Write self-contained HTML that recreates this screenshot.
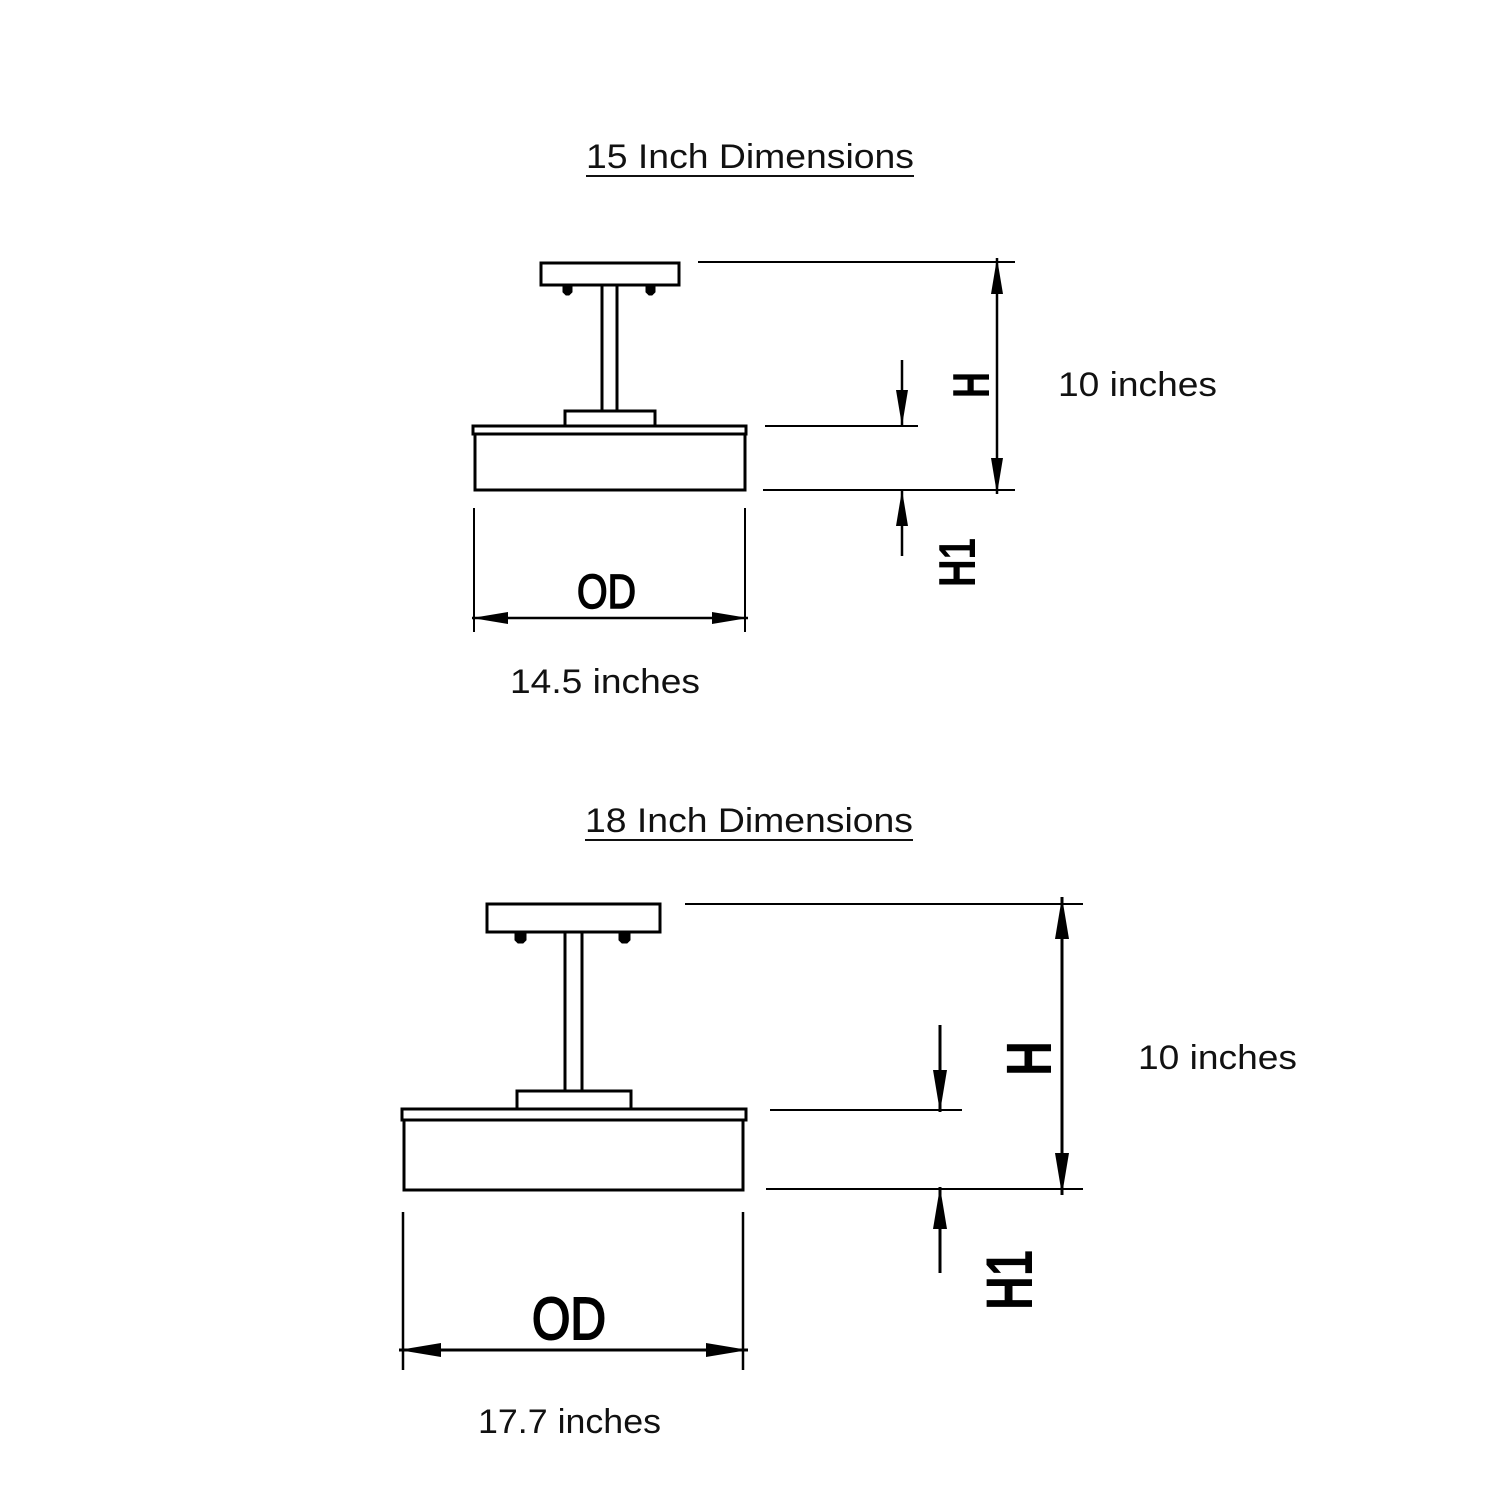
<!DOCTYPE html>
<html><head><meta charset="utf-8"><style>
html,body{margin:0;padding:0;background:#fff;}
svg{display:block}
.t{font-family:"Liberation Sans",sans-serif;fill:#111;}
</style></head><body>
<svg width="1500" height="1499" viewBox="0 0 1500 1499" xmlns="http://www.w3.org/2000/svg">
<defs>
<marker id="a" viewBox="0 0 36 12" refX="36" refY="6" markerWidth="36" markerHeight="12" markerUnits="userSpaceOnUse" orient="auto-start-reverse"><path d="M0,0 L36,6 L0,12 Z" fill="#000"/></marker>
<marker id="b" viewBox="0 0 42 14" refX="42" refY="7" markerWidth="42" markerHeight="14" markerUnits="userSpaceOnUse" orient="auto-start-reverse"><path d="M0,0 L42,7 L0,14 Z" fill="#000"/></marker>
</defs>
<g stroke="#000" fill="none" stroke-width="3">
<rect x="541" y="263" width="138" height="22"/>
<path d="M563,286 h9 v6 l-3,3 h-3 l-3,-3 z M646,286 h9 v6 l-3,3 h-3 l-3,-3 z" fill="#000" stroke-width="1"/>
<line x1="602" y1="286" x2="602" y2="411"/><line x1="617" y1="286" x2="617" y2="411"/>
<rect x="565" y="411" width="90" height="15"/>
<rect x="473" y="426" width="273" height="8"/>
<rect x="475" y="434" width="270" height="56"/>
<line x1="698" y1="262" x2="1015" y2="262" stroke-width="2"/>
<line x1="765" y1="426" x2="918" y2="426" stroke-width="2"/>
<line x1="763" y1="490" x2="1015" y2="490" stroke-width="2"/>
<line x1="997" y1="258" x2="997" y2="494" stroke-width="2.5" marker-start="url(#a)" marker-end="url(#a)"/>
<line x1="902" y1="360" x2="902" y2="426" stroke-width="2.5" marker-end="url(#a)"/>
<line x1="902" y1="556" x2="902" y2="490" stroke-width="2.5" marker-end="url(#a)"/>
<line x1="474" y1="508" x2="474" y2="632" stroke-width="2"/>
<line x1="745" y1="508" x2="745" y2="632" stroke-width="2"/>
<line x1="472" y1="618" x2="748" y2="618" stroke-width="2.5" marker-start="url(#a)" marker-end="url(#a)"/>
<rect x="487" y="904" width="173" height="28"/>
<path d="M515,933 h11 v7 l-3,3 h-5 l-3,-3 z M619,933 h11 v7 l-3,3 h-5 l-3,-3 z" fill="#000" stroke-width="1"/>
<line x1="565" y1="933" x2="565" y2="1090"/><line x1="582" y1="933" x2="582" y2="1090"/>
<rect x="517" y="1091" width="114" height="18"/>
<rect x="402" y="1109" width="344" height="11"/>
<rect x="404" y="1120" width="339" height="70"/>
<line x1="685" y1="904" x2="1083" y2="904" stroke-width="2"/>
<line x1="770" y1="1110" x2="962" y2="1110" stroke-width="2"/>
<line x1="766" y1="1189" x2="1083" y2="1189" stroke-width="2"/>
<line x1="1062" y1="897" x2="1062" y2="1195" stroke-width="3" marker-start="url(#b)" marker-end="url(#b)"/>
<line x1="940" y1="1025" x2="940" y2="1112" stroke-width="3" marker-end="url(#b)"/>
<line x1="940" y1="1273" x2="940" y2="1187" stroke-width="3" marker-end="url(#b)"/>
<line x1="403" y1="1212" x2="403" y2="1370" stroke-width="2.5"/>
<line x1="743" y1="1212" x2="743" y2="1370" stroke-width="2.5"/>
<line x1="399" y1="1350" x2="748" y2="1350" stroke-width="3" marker-start="url(#b)" marker-end="url(#b)"/>
</g>
<g class="t">
<text x="586" y="168" font-size="34" textLength="328" lengthAdjust="spacingAndGlyphs">15 Inch Dimensions</text>
<line x1="586" y1="176" x2="914" y2="176" stroke="#111" stroke-width="2"/>
<text x="585" y="832" font-size="34" textLength="328" lengthAdjust="spacingAndGlyphs">18 Inch Dimensions</text>
<line x1="585" y1="840" x2="913" y2="840" stroke="#111" stroke-width="2"/>
<text x="510" y="693" font-size="34" textLength="190" lengthAdjust="spacingAndGlyphs">14.5 inches</text>
<text x="1058" y="396" font-size="34" textLength="159" lengthAdjust="spacingAndGlyphs">10 inches</text>
<text x="478" y="1433" font-size="34" textLength="183" lengthAdjust="spacingAndGlyphs">17.7 inches</text>
<text x="1138" y="1069" font-size="34" textLength="159" lengthAdjust="spacingAndGlyphs">10 inches</text>
<text x="577" y="608" font-size="48" textLength="59" lengthAdjust="spacingAndGlyphs" fill="#000" stroke="#000" stroke-width="1.5">OD</text>
<text x="532" y="1339" font-size="59" textLength="74" lengthAdjust="spacingAndGlyphs" fill="#000" stroke="#000" stroke-width="2">OD</text>
<text transform="translate(989,398) rotate(-90)" font-size="52" font-weight="bold" textLength="26" lengthAdjust="spacingAndGlyphs" fill="#000">H</text>
<text transform="translate(975,587) rotate(-90)" font-size="52" font-weight="bold" textLength="49" lengthAdjust="spacingAndGlyphs" fill="#000">H1</text>
<text transform="translate(1051,1076) rotate(-90)" font-size="64" font-weight="bold" textLength="35" lengthAdjust="spacingAndGlyphs" fill="#000">H</text>
<text transform="translate(1032,1310) rotate(-90)" font-size="66" font-weight="bold" textLength="60" lengthAdjust="spacingAndGlyphs" fill="#000">H1</text>
</g>
</svg>
</body></html>
